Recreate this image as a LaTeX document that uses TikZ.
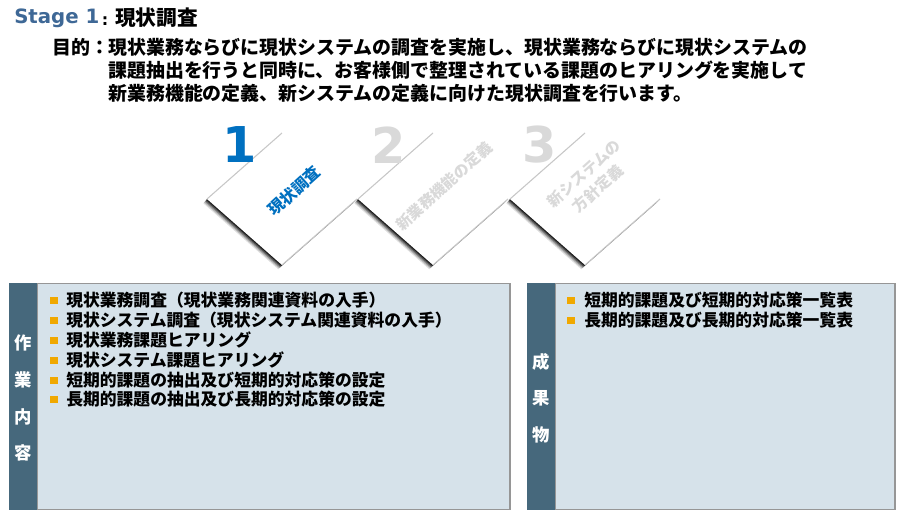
\documentclass[tikz,border=0pt]{standalone}
\usepackage{fontspec}
\setmainfont{Noto Sans CJK JP}
\newfontfamily\latinb{DejaVu Sans}
\usetikzlibrary{calc}
\definecolor{stageblue}{RGB}{62,104,150}
\definecolor{actblue}{RGB}{0,112,192}
\definecolor{dimgray}{RGB}{217,217,217}
\definecolor{edgegray}{RGB}{200,200,200}
\definecolor{colblue}{RGB}{70,104,124}
\definecolor{panelfill}{RGB}{214,226,234}
\definecolor{panelborder}{RGB}{150,150,150}
\definecolor{bulletorange}{RGB}{240,168,0}
\begin{document}
\begin{tikzpicture}[x=0.75pt,y=-0.75pt,
  head/.style={anchor=west,inner sep=0,font=\bfseries\fontsize{14.2}{17}\selectfont},
  item/.style={anchor=west,inner sep=0,font=\bfseries\fontsize{12.6}{15}\selectfont},
  collabel/.style={inner sep=0,text=white,font=\bfseries\fontsize{13}{15}\selectfont},
  bsq/.style={fill=bulletorange,draw=none},
  tileedge/.style={draw=edgegray,line width=0.8pt},
  bignum/.style={inner sep=0,font=\latinb\bfseries\fontsize{37}{40}\selectfont}]
\useasboundingbox (0,0) rectangle (914,511);
\fill[white] (0,0) rectangle (914,511);

% header
\node[anchor=west,inner sep=0,text=stageblue,font=\latinb\bfseries\fontsize{14.8}{18}\selectfont] (stage) at (14,18) {Stage 1};
\node[anchor=center,inner sep=0,font=\latinb\bfseries\fontsize{12}{14}\selectfont] (stagecolon) at (105,21) {:};
\node[anchor=west,inner sep=0,font=\bfseries\fontsize{15.5}{18}\selectfont] (stagetitle) at (115,18) {現状調査};

\node[head] (purpose) at (52,47) {目的：};
\node[head] (p1) at (108,47) {現状業務ならびに現状システムの調査を実施し、現状業務ならびに現状システムの};
\node[head] (p2) at (108,70) {課題抽出を行うと同時に、お客様側で整理されている課題のヒアリングを実施して};
\node[head] (p3) at (108,93) {新業務機能の定義、新システムの定義に向けた現状調査を行います。};

% tiles
\foreach \cx in {282,433,585} {
  \foreach \i/\o in {5/0.12,4/0.18,3/0.28,2/0.4,1/0.65} {
    \fill[black,opacity=\o] (\cx-75-0.75*\i,199+0.85*\i) -- (\cx-0.75*\i,133+0.85*\i) -- (\cx+75-0.75*\i,199+0.85*\i) -- (\cx-0.75*\i,265+0.85*\i) -- cycle;
  }
  \fill[white] (\cx-75,199) -- (\cx,133) -- (\cx+75,199) -- (\cx,265) -- cycle;
  \draw[tileedge] (\cx-75,199) -- (\cx,133);
  \draw[tileedge] (\cx,265) -- (\cx+75,199);
}

\node[bignum,text=actblue] (n1) at (240,145) {1};
\node[bignum,text=dimgray] (n2) at (389,145) {2};
\node[bignum,text=dimgray] (n3) at (540,145) {3};

\node[inner sep=0,rotate=42,text=actblue,font=\bfseries\fontsize{12}{14}\selectfont] (t1) at (294,191) {現状調査};
\node[inner sep=0,rotate=42,text=dimgray,font=\bfseries\fontsize{11.5}{14}\selectfont] (t2) at (444,186) {新業務機能の定義};
\node[inner sep=0,rotate=42,text=dimgray,align=center,font=\bfseries\fontsize{11.5}{15.5}\selectfont] (t3) at (591,181) {新システムの\\方針定義};

% left panel
\draw[panelborder,fill=panelfill,line width=0.8pt] (37,283.5) rectangle (510,509.5);
\fill[colblue] (9,283) rectangle (37,510);
\node[collabel] (c1) at (23,343) {作};
\node[collabel] (c2) at (23,380) {業};
\node[collabel] (c3) at (23,417) {内};
\node[collabel] (c4) at (23,453) {容};

\foreach \n/\yy/\t in {1/300/現状業務調査（現状業務関連資料の入手）,
                        2/320/現状システム調査（現状システム関連資料の入手）,
                        3/340/現状業務課題ヒアリング,
                        4/360/現状システム課題ヒアリング,
                        5/380/短期的課題の抽出及び短期的対応策の設定,
                        6/399/長期的課題の抽出及び長期的対応策の設定} {
  \fill[bsq] (50,\yy-3.5) rectangle (57.5,\yy+3.5);
  \node[item] (l\n) at (66,\yy) {\t};
}

% right panel
\draw[panelborder,fill=panelfill,line width=0.8pt] (555,283.5) rectangle (895,509.5);
\fill[colblue] (527,283) rectangle (555,510);
\node[collabel] (d1) at (541,362) {成};
\node[collabel] (d2) at (541,398) {果};
\node[collabel] (d3) at (541,435) {物};

\foreach \n/\yy/\t in {1/300/短期的課題及び短期的対応策一覧表,
                        2/320/長期的課題及び長期的対応策一覧表} {
  \fill[bsq] (567,\yy-3.5) rectangle (574.5,\yy+3.5);
  \node[item] (r\n) at (584,\yy) {\t};
}
\end{tikzpicture}
\end{document}
